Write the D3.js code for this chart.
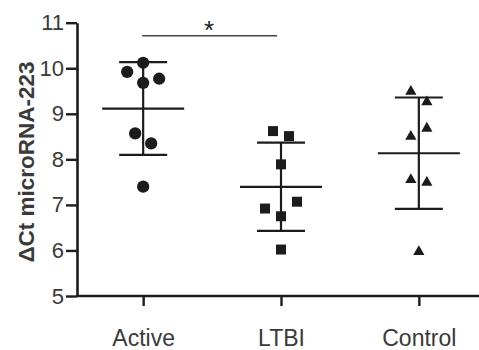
<!DOCTYPE html>
<html>
<head>
<meta charset="utf-8">
<script src="https://cdn.jsdelivr.net/npm/d3@7"></script>
<style>
  body { margin: 0; background: #fff; }
  svg { display: block; font-family: Arial, "Liberation Sans", sans-serif; }
</style>
</head>
<body>
<div class="chart"></div>
<script>
// groups along the x axis
const groups = ["Active", "LTBI", "Control"];

// individual values (ΔCt), with small horizontal jitter
const activeValues = [10.12, 9.92, 9.68, 9.77, 8.57, 8.35, 7.40];
const activeJitter = [0, -1, 0, 1, -0.5, 0.5, 0];
const ltbiValues = [8.62, 8.51, 7.89, 7.07, 6.92, 6.75, 6.02];
const ltbiJitter = [-0.5, 0.5, 0, 1, -1, 0, 0];
const controlValues = [9.49, 9.26, 8.68, 8.50, 7.55, 7.49, 5.97];
const controlJitter = [-0.5, 0.5, 0.5, -0.5, -0.5, 0.5, 0];

const yTicks = [5, 6, 7, 8, 9, 10, 11];
const yLabel = "ΔCt microRNA-223";
const sigPair = ["Active", "LTBI"];
const sigLabel = "*";

const width = 479, height = 350;
const ink = "#1c1c1c", textCol = "#3a3a3a";

const svg = d3.select(".chart").append("svg")
  .attr("width", width)
  .attr("height", height);

const x = d3.scalePoint()
  .domain(groups)
  .range([77, 485])
  .padding(0.48);

const y = d3.scaleLinear()
  .domain([5, 11])
  .range([296, 22.7]);

const jitterStep = 16;

const series = [
  { name: "Active", values: activeValues, jitter: activeJitter, symbol: d3.symbolCircle, size: 118 },
  { name: "LTBI", values: ltbiValues, jitter: ltbiJitter, symbol: d3.symbolSquare, size: 100 },
  { name: "Control", values: controlValues, jitter: controlJitter, symbol: d3.symbolTriangle, size: 55 }
];

// axes
const yAxis = svg.append("g")
  .attr("transform", "translate(77,0)")
  .call(d3.axisLeft(y).tickValues(yTicks).tickFormat(d3.format("d"))
    .tickSize(11).tickPadding(2).tickSizeOuter(0));

const xAxis = svg.append("g")
  .attr("transform", "translate(0,296)")
  .call(d3.axisBottom(x).tickSize(10).tickPadding(24).tickSizeOuter(0));

[yAxis, xAxis].forEach(function(g) {
  g.selectAll(".domain").attr("stroke", ink).attr("stroke-width", 2.6);
  g.selectAll(".tick line").attr("stroke", ink).attr("stroke-width", 2.4);
  g.selectAll("text").attr("fill", textCol).style("font-size", "22px").attr("font-family", null);
});
xAxis.selectAll("text").style("font-size", "23px");
xAxis.select(".domain").attr("d", "M77,0H485");

svg.append("text")
  .attr("transform", "translate(34,162) rotate(-90)")
  .attr("text-anchor", "middle")
  .attr("fill", textCol)
  .style("font-size", "22.5px")
  .style("font-weight", "bold")
  .text(yLabel);

// mean ± SD bars and points
series.forEach(function(s) {
  const cx = x(s.name);
  const m = d3.mean(s.values);
  const sd = d3.deviation(s.values);
  const g = svg.append("g");

  g.append("line")
    .attr("x1", cx).attr("x2", cx)
    .attr("y1", y(m + sd)).attr("y2", y(m - sd))
    .attr("stroke", ink).attr("stroke-width", 2.2);
  g.selectAll(".cap")
    .data([m + sd, m - sd])
    .enter().append("line")
    .attr("x1", cx - 24).attr("x2", cx + 24)
    .attr("y1", function(d) { return y(d); })
    .attr("y2", function(d) { return y(d); })
    .attr("stroke", ink).attr("stroke-width", 2.2);
  g.append("line")
    .attr("x1", cx - 41).attr("x2", cx + 41)
    .attr("y1", y(m)).attr("y2", y(m))
    .attr("stroke", ink).attr("stroke-width", 2.2);

  const shape = d3.symbol().type(s.symbol).size(s.size);
  g.selectAll("path.pt")
    .data(s.values)
    .enter().append("path")
    .attr("class", "pt")
    .attr("d", shape)
    .attr("fill", ink)
    .attr("transform", function(d, i) {
      return "translate(" + (cx + s.jitter[i] * jitterStep) + "," + y(d) + ")";
    });
});

// significance bar
svg.append("line")
  .attr("x1", x(sigPair[0]) - 1).attr("x2", x(sigPair[1]) - 4)
  .attr("y1", 35.7).attr("y2", 35.7)
  .attr("stroke", "#444").attr("stroke-width", 1.6);
svg.append("text")
  .attr("x", (x(sigPair[0]) + x(sigPair[1])) / 2 - 3)
  .attr("y", 39)
  .attr("text-anchor", "middle")
  .attr("fill", ink)
  .style("font-size", "26px")
  .text(sigLabel);
</script>
</body>
</html>
